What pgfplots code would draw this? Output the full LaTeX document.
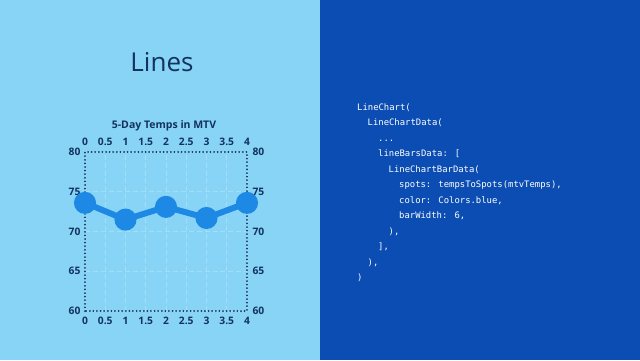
\documentclass[border=0pt]{standalone}
\usepackage{pgfplots}
\pgfplotsset{compat=1.18}
\usepackage{fontspec}
\setmainfont{Open Sans}
\newfontfamily\codefont{DejaVu Sans Mono}
\definecolor{leftbg}{HTML}{87D4F7}
\definecolor{rightbg}{HTML}{0B4DB2}
\definecolor{navy}{HTML}{13335E}
\definecolor{linec}{HTML}{1E88E5}
\definecolor{gridc}{HTML}{A3DEF8}
\begin{document}
\begin{tikzpicture}[x=1bp,y=1bp]
\fill[leftbg] (0,0) rectangle (320,360);
\fill[rightbg] (320,0) rectangle (640,360);
\node[text=navy,font=\fontsize{26bp}{30bp}\selectfont] at (162,298) {Lines};
\node[text=navy,font=\fontsize{10.5bp}{12bp}\selectfont\bfseries] at (164,234) {5-Day Temps in MTV};
\begin{axis}[
  at={(85bp,49bp)}, anchor=south west,
  scale only axis, width=162bp, height=159bp,
  xmin=0, xmax=4, ymin=60, ymax=80,
  xtick={0,0.5,...,4}, ytick={60,65,...,80},
  xticklabels={0,0.5,1,1.5,2,2.5,3,3.5,4},
  axis x line*=box, axis y line*=box,
  axis line style={navy, line width=2bp, line cap=round, dash pattern=on 0pt off 3.6bp},
  tick style={draw=none},
  grid=major,
  major grid style={gridc, dash pattern=on 5pt off 3pt, line width=0.7pt},
  ticklabel style={text=navy, font=\fontsize{10.3bp}{12bp}\selectfont\bfseries},
  xticklabel style={yshift=-3bp},
  yticklabel style={xshift=-1bp},
  /pgf/number format/assume math mode=true,
  xticklabel pos=lower,
  clip=false,
]
\addplot[linec, line width=6bp, mark=*, mark size=8bp, mark options={fill=linec, draw=none}]
  coordinates {(0,73.6) (1,71.5) (2,73.1) (3,71.7) (4,73.6)};
\end{axis}
\begin{axis}[
  at={(85bp,49bp)}, anchor=south west,
  scale only axis, width=162bp, height=159bp,
  xmin=0, xmax=4, ymin=60, ymax=80,
  xtick={0,0.5,...,4}, ytick={60,65,...,80},
  xticklabels={0,0.5,1,1.5,2,2.5,3,3.5,4},
  axis line style={draw=none},
  tick style={draw=none},
  xticklabel pos=upper, yticklabel pos=right,
  ticklabel style={text=navy, font=\fontsize{10.3bp}{12bp}\selectfont\bfseries},
  xticklabel style={yshift=3bp},
  yticklabel style={xshift=2bp},
  /pgf/number format/assume math mode=true,
]
\addplot[draw=none] coordinates {(0,60)};
\end{axis}
\begin{scope}[every node/.style={anchor=base west, text=white, inner sep=0pt, font=\codefont\fontsize{8.9bp}{10bp}\selectfont}]
\node at (357,250) {LineChart(};
\node at (367.5,234.5) {LineChartData(};
\node at (378,219) {...};
\node at (378,203.5) {lineBarsData: [};
\node at (388.5,188) {LineChartBarData(};
\node at (399,172.5) {spots: tempsToSpots(mtvTemps),};
\node at (399,157) {color: Colors.blue,};
\node at (399,141.5) {barWidth: 6,};
\node at (388.5,126) {),};
\node at (378,110.5) {],};
\node at (367.5,95) {),};
\node at (357,79.5) {)};
\end{scope}
\end{tikzpicture}
\end{document}
